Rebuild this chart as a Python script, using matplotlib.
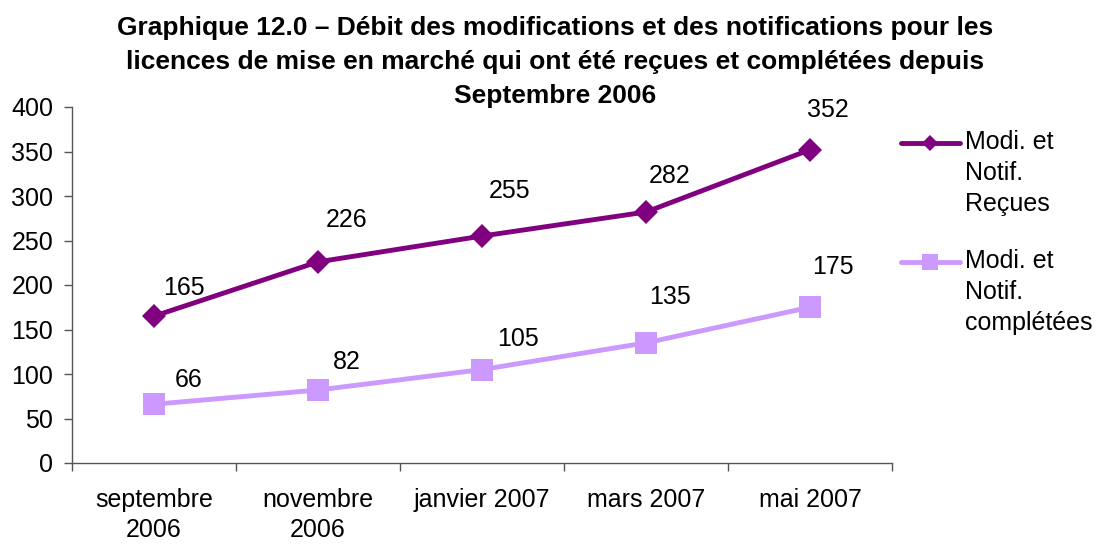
import matplotlib
matplotlib.use("Agg")
import matplotlib.pyplot as plt
from matplotlib.lines import Line2D

plt.rcParams['font.family'] = ['Liberation Sans', 'DejaVu Sans']

categories = ["septembre\n2006", "novembre\n2006", "janvier 2007", "mars 2007", "mai 2007"]
recues = [165, 226, 255, 282, 352]
completees = [66, 82, 105, 135, 175]
series_names = ["Modi. et\nNotif.\nReçues", "Modi. et\nNotif.\ncomplétées"]
title_lines = ["Graphique 12.0 – Débit des modifications et des notifications pour les",
               "licences de mise en marché qui ont été reçues et complétées depuis",
               "Septembre 2006"]
yticks = [0, 50, 100, 150, 200, 250, 300, 350, 400]

W, H = 1099, 544
FS = 18
fig = plt.figure(figsize=(W / 100, H / 100), dpi=100)
ax = fig.add_axes([72 / W, 1 - 463 / H, (892 - 72) / W, (463 - 107) / H])

dark = "#800080"
light = "#CC99FF"
x = list(range(len(categories)))

ax.plot(x, recues, color=dark, lw=3.5, marker="D", ms=12.5, mew=0, zorder=3)
ax.plot(x, completees, color=light, lw=3.5, marker="s", ms=16, mew=0, zorder=3)

label_offsets_r = [(30, 28), (29, 42), (28, 45), (24, 36), (18, 40)]
label_offsets_c = [(35, 24), (29, 28), (36, 31), (24, 46), (23, 40)]
for xi, v, off in zip(x, recues, label_offsets_r):
    ax.annotate(str(v), (xi, v), xytext=(off[0] * 0.72, off[1] * 0.72), textcoords="offset points",
                ha="center", va="center", fontsize=FS)
for xi, v, off in zip(x, completees, label_offsets_c):
    ax.annotate(str(v), (xi, v), xytext=(off[0] * 0.72, off[1] * 0.72), textcoords="offset points",
                ha="center", va="center", fontsize=FS)

ax.set_xlim(-0.5, len(categories) - 0.5)
ax.set_ylim(0, 400)
ax.set_yticks(yticks)
ax.set_yticklabels([str(t) for t in yticks], fontsize=FS)
ax.set_xticks(x)
ax.set_xticklabels(categories, fontsize=FS, linespacing=1.3)
ax.set_xticks([i - 0.5 for i in range(len(categories) + 1)], minor=True)
ax.tick_params(axis="x", which="major", length=0, pad=18)
ax.tick_params(axis="x", which="minor", length=5.5, width=1, color="#555555")
ax.tick_params(axis="y", length=5.5, width=1, color="#555555", pad=8)
for s in ["top", "right"]:
    ax.spines[s].set_visible(False)
for s in ["left", "bottom"]:
    ax.spines[s].set_color("#555555")
    ax.spines[s].set_linewidth(1)

for line, base in zip(title_lines, [35, 69, 103]):
    fig.text(555 / W, 1 - base / H, line, ha="center", va="baseline", fontsize=19, fontweight="bold")

# legend
leg_y = [143, 262]
colors = [dark, light]
markers = ["D", "s"]
msizes = [8.5, 11]
for yy, c, m, ms, name in zip(leg_y, colors, markers, msizes, series_names):
    fy = 1 - yy / H
    fig.add_artist(Line2D([901 / W, 960 / W], [fy, fy], color=c, lw=3.5, solid_capstyle="round"))
    fig.add_artist(Line2D([930 / W], [fy], color=c, marker=m, ms=ms, mew=0))
    fig.text(965 / W, 1 - (yy - 13) / H, name, ha="left", va="top", fontsize=FS, linespacing=1.38)

fig.savefig("out.png", dpi=100)
